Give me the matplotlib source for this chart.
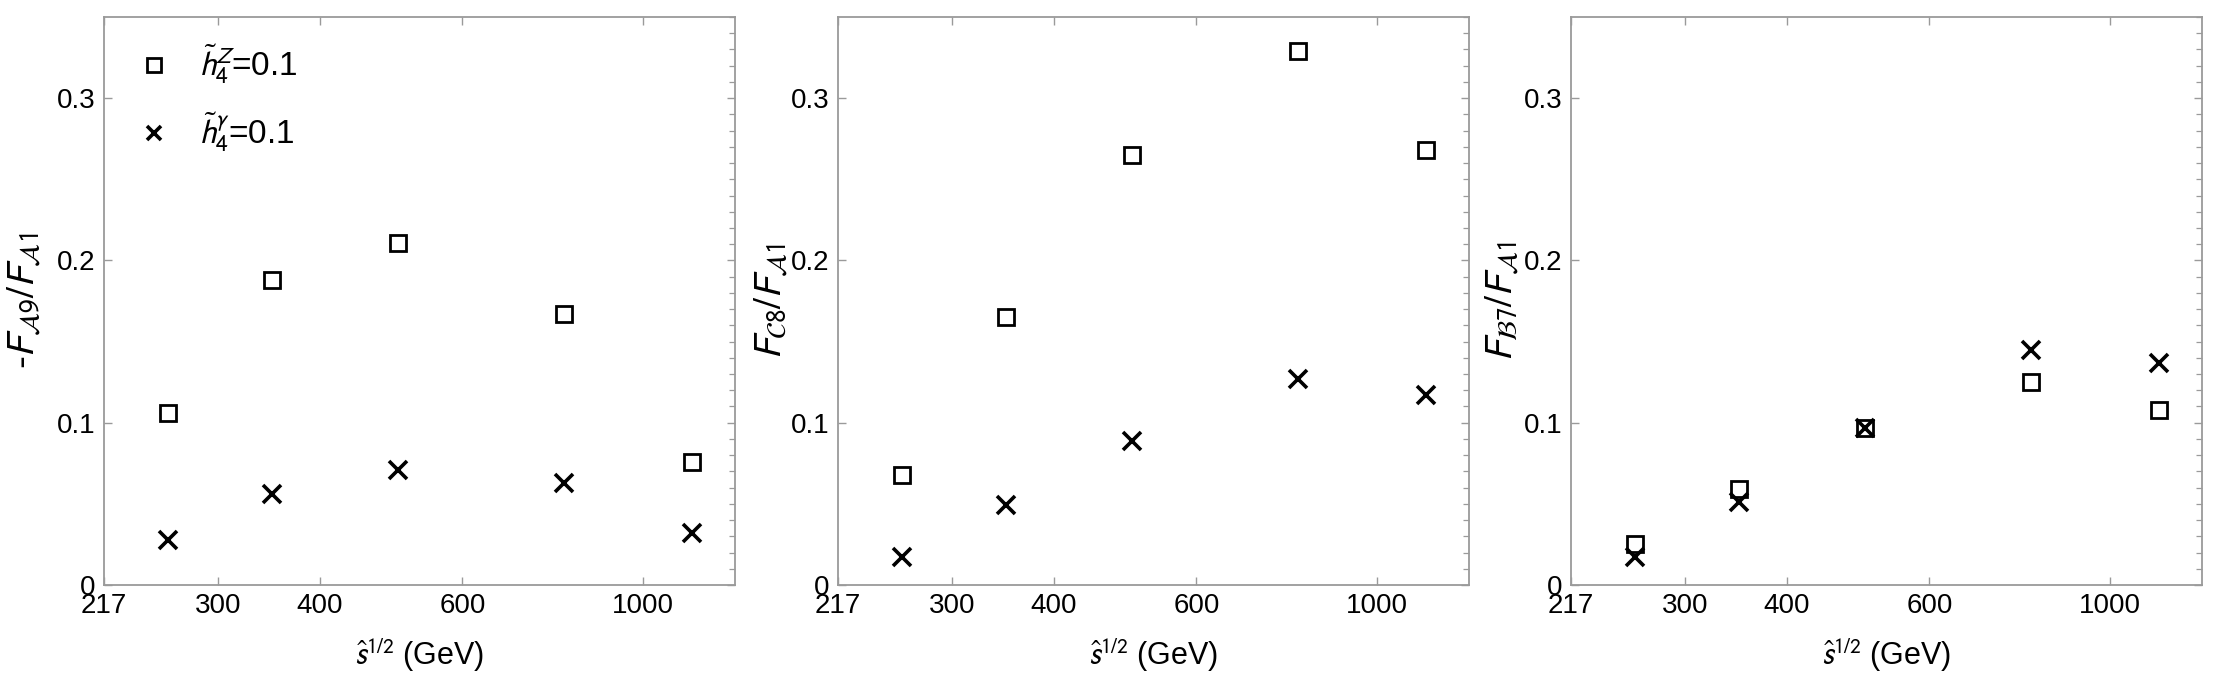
import matplotlib
matplotlib.use("Agg")
import matplotlib.pyplot as plt
from matplotlib.ticker import FixedLocator, NullLocator, MultipleLocator, FuncFormatter

plt.rcParams["font.family"] = ["Liberation Sans", "DejaVu Sans"]
plt.rcParams["mathtext.fontset"] = "stixsans"

# sqrt(s-hat) in GeV
energy = [260, 350, 500, 800, 1150]

# ratios for h4Z = 0.1 (squares) and h4gamma = 0.1 (crosses)
a9_hZ = [0.106, 0.188, 0.211, 0.167, 0.076]
a9_hg = [0.028, 0.056, 0.071, 0.063, 0.032]
c8_hZ = [0.068, 0.165, 0.265, 0.329, 0.268]
c8_hg = [0.017, 0.049, 0.089, 0.127, 0.117]
b7_hZ = [0.025, 0.059, 0.097, 0.125, 0.108]
b7_hg = [0.017, 0.051, 0.097, 0.145, 0.137]

ylabels = [
    r"-$F_{\mathcal{A}9}/F_{\mathcal{A}1}$",
    r"$F_{\mathcal{C}8}/F_{\mathcal{A}1}$",
    r"$F_{\mathcal{B}7}/F_{\mathcal{A}1}$",
]
legend_labels = [r"$\tilde{h}_4^{Z}$=0.1", r"$\tilde{h}_4^{\gamma}$=0.1"]

x_ticks = [217, 300, 400, 600, 1000]
y_ticks = [0, 0.1, 0.2, 0.3]

W, H = 2213, 682
fig = plt.figure(figsize=(W / 100, H / 100), dpi=100)

lefts = [104, 838, 1571]
label_pads = [10, 1, 2]
ax_w = 631
bottom_px, top_px = 585, 17

panels = [(a9_hZ, a9_hg), (c8_hZ, c8_hg), (b7_hZ, b7_hg)]
frame_col = "#9a9a9a"

for i, (left, (hz, hg)) in enumerate(zip(lefts, panels)):
    ax = fig.add_axes([left / W, (H - bottom_px) / H, ax_w / W, (bottom_px - top_px) / H])
    ax.plot(energy, hz, ls="none", marker="s", ms=12, mfc="none", mec="black",
            mew=2.0, label=legend_labels[0])
    ax.plot(energy, hg, ls="none", marker="x", ms=12.5, mec="black", mew=2.6,
            label=legend_labels[1])

    ax.set_xscale("log")
    ax.set_xlim(217, 1300)
    ax.set_ylim(0, 0.35)
    ax.xaxis.set_major_locator(FixedLocator(x_ticks))
    ax.xaxis.set_minor_locator(NullLocator())
    ax.xaxis.set_major_formatter(FuncFormatter(lambda v, _: f"{v:g}"))
    ax.yaxis.set_major_locator(FixedLocator(y_ticks))
    ax.yaxis.set_minor_locator(MultipleLocator(0.01))
    ax.yaxis.set_major_formatter(FuncFormatter(lambda v, _: f"{v:g}"))

    for sp in ax.spines.values():
        sp.set_color(frame_col)
        sp.set_linewidth(1.3)
    ax.tick_params(which="major", direction="in", length=6, width=1.0,
                   color=frame_col, top=True, right=True, labelsize=20, pad=6)
    ax.tick_params(which="minor", direction="in", length=4, width=0.9,
                   color=frame_col, left=False, right=True)

    ax.set_ylabel(ylabels[i], fontsize=28, labelpad=label_pads[i])
    ax.set_xlabel(r"$\hat{s}^{1/2}$ (GeV)", fontsize=22, labelpad=12)

    if i == 0:
        ax.legend(loc="upper left", bbox_to_anchor=(0.053, 0.955), frameon=False,
                  fontsize=24, markerscale=0.85, handlelength=1.0,
                  handletextpad=0.85, labelspacing=0.75, borderpad=0,
                  borderaxespad=0)

fig.savefig("out.png", dpi=100)
